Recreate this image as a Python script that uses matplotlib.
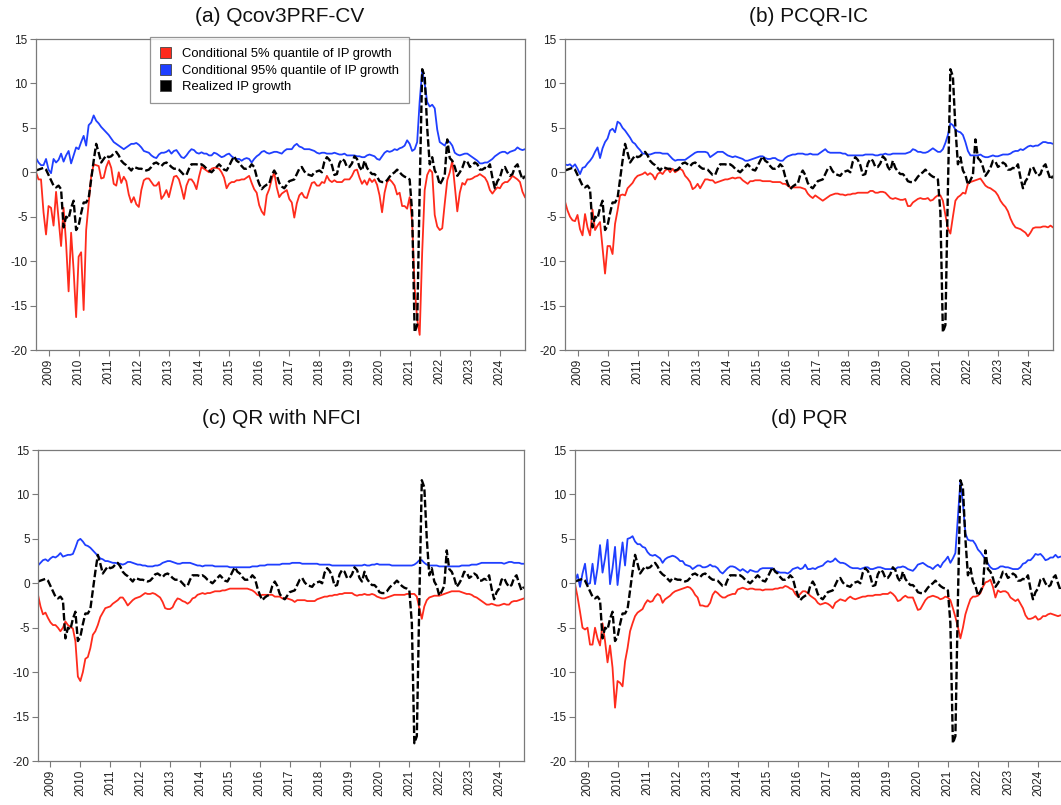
import numpy as np
import matplotlib.pyplot as plt
from matplotlib.patches import Patch

plt.rcParams['font.family'] = ['Liberation Sans', 'DejaVu Sans']
plt.rcParams['axes.unicode_minus'] = False

# ==========================================
# Data: monthly, Aug 2008 - Nov 2024
# ==========================================

start_year, start_month, n_months = 2008, 8, 196
dates = start_year + (start_month - 1 + np.arange(n_months)) / 12
year_ticks = list(range(2009, 2025))

realized = [
    0.2, 0.3, 0.4, 0.5, 0.3,
    -0.3, -0.9, -1.5, -1.7, -1.5, -1.9, -6.2, -5.0, -5.2, -4.0, -3.2, -6.5,
    -6.0, -4.6, -3.4, -3.4, -2.9, -0.8, 1.3, 3.2, 2.2, 1.1, 1.5, 1.9,
    1.7, 1.8, 2.1, 2.3, 1.9, 1.3, 1.0, 0.8, 0.5, 0.2, 0.6, 0.5,
    0.4, 0.4, 0.3, 0.2, 0.3, 0.6, 1.0, 1.1, 0.9, 0.7, 1.0, 1.1,
    0.9, 0.6, 0.4, 0.4, 0.3, 0.0, -0.3, -0.3, 0.4, 0.9, 0.9, 0.9,
    0.8, 0.9, 0.7, 0.4, 0.2, 0.0, 0.3, 0.6, 0.9, 0.6, 0.3, 0.2,
    0.7, 1.3, 1.8, 1.3, 1.1, 0.7, 0.4, 0.4, 0.5, 0.9, 0.6, -0.5,
    -1.3, -1.9, -1.6, -1.4, -1.3, -0.3, 0.2, -0.3, -1.2, -1.6, -1.8, -1.4,
    -1.0, -0.9, -0.8, -0.2, 0.4, 0.6, 0.1, -0.2, -0.3, -0.4, 0.0, 0.1,
    0.2, 0.0, 1.2, 1.7, 1.4, 0.8, -0.3, -0.2, 1.0, 1.5, 1.3, 0.6,
    0.6, 1.0, 1.8, 1.5, 0.6, 0.2, 1.3, 0.5, 0.1, -0.2, -0.2, -0.5,
    -1.0, -1.1, -1.1, -0.9, -0.5, -0.2, 0.0, 0.3, 0.0, -0.3, -0.5, -0.6,
    -0.8, -4.5, -18.0, -17.2, -2.0, 11.6, 10.8, 5.0, 0.9, 1.7, 0.2, -0.3,
    -1.4, -0.9, -0.3, 3.7, 1.6, 1.3, 0.6, -0.4, 0.0, 0.5, 1.3, 1.2,
    0.6, 0.8, 1.1, 0.9, 0.3, 0.3, 0.5, 0.4, 0.9, -0.6, -1.8, -1.0,
    -0.6, 0.4, 0.6, 0.0, -0.4, -0.2, 0.6, 0.9, 0.0, -0.8, -0.4,
]

# (a) Qcov3PRF-CV
a_q05 = [
    0.0, -0.8, -0.8, -4.5, -7.0,
    -3.8, -4.0, -6.0, -2.2, -5.2, -8.3, -4.0, -8.0, -13.4, -6.8, -11.0, -16.3,
    -9.5, -9.0, -15.5, -6.5, -3.5, -0.5, 0.9, 0.8, 0.7, -0.7, -0.6, 0.6,
    1.3, 0.5, -1.3, -1.5, 0.0, -1.2, -0.5, -1.0, -2.5, -3.4, -2.8, -3.6,
    -3.9, -2.0, -0.9, -0.7, -0.7, -1.1, -1.5, -1.5, -1.1, -3.0, -2.6, -2.0,
    -2.8, -1.6, -0.5, -0.4, -0.8, -1.8, -3.0, -1.5, -0.8, -0.8, -1.2, -1.9,
    -0.5, 0.6, 0.4, 0.2, 0.0, 0.4, 0.5, 0.5, 0.4, 0.0, -0.6, -1.8,
    -1.3, -1.1, -1.1, -0.9, -0.9, -0.8, -0.8, -0.6, -0.4, -1.2, -1.9, -2.3,
    -3.7, -4.4, -4.8, -2.6, -1.9, -0.8, 0.0, -1.7, -2.8, -2.4, -2.2, -2.0,
    -3.0, -3.4, -5.1, -3.5, -2.6, -2.3, -2.8, -2.9, -2.0, -1.2, -1.1, -1.5,
    -1.5, -1.1, -1.2, -0.4, -0.9, -1.1, -0.9, -1.1, -1.1, -1.1, -0.8, -0.8,
    -0.8, -0.4, 0.2, 0.3, -0.6, -1.3, -0.9, -1.4, -0.7, -1.1, -0.8, -1.4,
    -2.6, -4.5, -2.3, -1.1, -0.8, -1.1, -1.5, -2.5, -2.3, -3.8, -3.8, -4.1,
    -2.8, -5.6, -13.0, -16.5, -18.3, -9.0, -2.0, -0.3, 0.3, 0.0, -4.8, -6.1,
    -6.5, -6.3, -3.5, -0.9, 0.0, 1.3, -1.5, -4.4, -2.3, -1.2, -1.4, -0.8,
    -0.8, -0.7, -0.5, -0.4, -0.2, -0.4, -0.6, -1.1, -2.0, -2.4, -2.0, -1.7,
    -1.8, -1.3, -1.1, -1.1, -0.8, -0.4, -0.6, -0.8, -1.1, -2.2, -2.8,
]
a_q95 = [
    1.6, 1.1, 0.8, 0.8, 1.5,
    0.3, -0.1, 1.5, 1.1, 1.4, 2.1, 1.2, 1.9, 2.4, 1.0, 1.9, 2.8,
    2.6, 3.4, 4.1, 3.0, 5.3, 5.6, 6.4, 5.8, 5.5, 5.1, 4.8, 4.5,
    4.2, 3.8, 3.4, 3.2, 3.0, 2.8, 2.6, 2.8, 3.0, 3.2, 3.2, 3.3,
    3.1, 2.8, 2.4, 2.3, 2.2, 1.9, 1.7, 1.6, 2.0, 2.2, 2.2, 2.3,
    2.5, 2.1, 2.4, 2.5, 2.1, 1.7, 1.6, 1.9, 2.3, 2.6, 2.5, 2.2,
    2.1, 2.25, 2.1, 2.1, 1.9, 1.9, 2.2, 2.1, 1.9, 1.7, 1.8, 2.0,
    2.1, 1.8, 1.6, 1.5, 1.5, 1.3, 1.5, 1.6, 1.5, 1.1, 1.5, 1.8,
    2.0, 2.3, 2.4, 2.2, 2.1, 2.2, 2.3, 2.3, 2.2, 2.1, 2.4, 2.6,
    2.6, 2.6, 3.0, 3.2, 2.9, 2.8, 2.6, 2.6, 2.6, 2.5, 2.4, 2.2,
    2.1, 2.2, 2.2, 2.1, 2.1, 2.1, 2.2, 2.1, 2.0, 2.0, 2.1, 1.9,
    1.9, 1.9, 1.9, 1.8, 1.8, 1.7, 1.7, 1.9, 2.0, 1.9, 1.8, 1.5,
    1.4, 1.8, 2.2, 2.4, 2.3, 2.4, 2.6, 2.5, 2.7, 2.8, 3.0, 3.6,
    3.2, 2.4, 2.6, 3.4, 8.0, 11.4, 10.0, 7.9, 7.4, 7.6, 7.2, 4.8,
    3.4, 3.2, 3.0, 3.6, 3.4, 3.0, 2.2, 2.0, 1.9, 2.0, 2.1, 2.1,
    1.9, 1.7, 1.5, 1.3, 1.0, 1.0, 1.1, 1.1, 1.3, 1.5, 1.8, 2.0,
    2.2, 2.3, 2.3, 2.1, 2.3, 2.4, 2.5, 2.8, 2.6, 2.5, 2.6,
]

# (b) PCQR-IC
b_q05 = [
    -3.3, -4.3, -5.0, -5.4, -5.5,
    -4.8, -6.4, -7.1, -4.7, -6.2, -7.1, -4.2, -6.5, -6.0, -5.6, -8.5, -11.4,
    -8.3, -8.3, -9.2, -5.8, -4.3, -2.6, -2.5, -2.6, -1.8, -1.5, -1.2, -0.7,
    -0.4, -0.3, -0.2, 0.0, -0.3, -0.1, -0.3, -0.8, -0.2, 0.0, -0.2, 0.2,
    0.4, 0.0, 0.4, 0.0, 0.2, 0.4, 0.2, -0.4, -0.7, -1.1, -1.9, -1.7,
    -1.3, -1.8, -1.3, -0.8, -0.8, -0.9, -0.9, -1.2, -1.1, -1.0, -0.9, -0.8,
    -0.8, -0.7, -0.6, -0.7, -0.6, -0.6, -0.9, -1.1, -1.3, -1.0, -1.0, -0.9,
    -0.9, -0.9, -1.0, -1.0, -1.0, -1.0, -1.1, -1.1, -1.1, -1.1, -1.3, -1.3,
    -1.5, -1.7, -1.7, -1.7, -1.7, -1.7, -1.8, -1.9, -2.4, -2.7, -2.9, -2.6,
    -2.8, -3.0, -3.2, -3.0, -2.8, -2.6, -2.5, -2.4, -2.4, -2.5, -2.5, -2.6,
    -2.5, -2.5, -2.4, -2.4, -2.3, -2.3, -2.3, -2.3, -2.3, -2.1, -2.1, -2.3,
    -2.3, -2.2, -2.2, -2.3, -2.6, -2.9, -3.0, -2.9, -3.0, -3.1, -3.1, -3.0,
    -3.8, -3.8, -3.4, -3.2, -3.0, -2.9, -3.0, -3.0, -2.9, -3.2, -3.1, -2.8,
    -2.6, -2.6, -3.2, -4.8, -6.3, -6.9, -5.0, -3.2, -2.8, -2.6, -2.3, -2.4,
    -1.3, -1.1, -1.0, -0.9, -0.8, -0.7, -1.1, -1.5, -1.7, -1.8, -2.0, -2.2,
    -2.6, -3.2, -3.6, -3.9, -4.4, -5.2, -5.8, -6.2, -6.3, -6.4, -6.6, -6.8,
    -7.2, -6.8, -6.3, -6.2, -6.2, -6.2, -6.1, -6.1, -6.2, -6.0, -6.2,
]
b_q95 = [
    0.9, 0.8, 0.9, 0.6, 0.9,
    0.4, -0.2, 0.5, 0.6, 1.0, 1.3, 1.7, 2.3, 2.8, 1.6, 2.7, 3.4,
    3.8, 4.7, 4.9, 4.5, 5.7, 5.5, 5.0, 4.7, 4.3, 3.9, 3.4, 3.2,
    2.8, 2.5, 2.1, 2.1, 2.0, 2.0, 2.1, 2.2, 2.2, 2.2, 2.1, 2.1,
    2.1, 1.8, 1.5, 1.3, 1.4, 1.4, 1.4, 1.4, 1.6, 1.8, 2.0, 2.2,
    2.3, 2.3, 2.3, 2.3, 2.2, 1.7, 1.9, 2.1, 2.3, 2.3, 2.3, 2.1,
    1.9, 1.8, 1.7, 1.8, 1.7, 1.6, 1.5, 1.3, 1.3, 1.4, 1.5, 1.6,
    1.7, 1.8, 1.8, 1.6, 1.5, 1.5, 1.6, 1.6, 1.4, 1.3, 1.3, 1.6,
    1.8, 1.9, 2.0, 2.0, 2.1, 2.1, 2.1, 2.0, 2.0, 2.1, 2.0, 2.0,
    2.0, 2.2, 2.4, 2.6, 2.3, 2.2, 2.2, 2.2, 2.2, 2.2, 2.1, 2.1,
    1.9, 1.9, 1.9, 1.9, 1.9, 1.9, 1.9, 2.0, 2.0, 2.0, 2.0, 1.9,
    1.9, 2.0, 2.0, 2.1, 2.0, 2.0, 2.1, 2.1, 2.1, 2.1, 2.1, 2.1,
    2.2, 2.3, 2.6, 2.5, 2.3, 2.3, 2.2, 2.2, 2.3, 2.5, 2.7, 2.5,
    2.3, 2.3, 2.6, 3.3, 4.2, 5.5, 5.3, 4.8, 4.6, 4.5, 4.2, 3.4,
    2.4, 1.9, 1.9, 1.9, 1.9, 2.0, 1.8, 1.7, 1.7, 1.8, 1.9, 1.8,
    1.8, 1.9, 2.0, 2.0, 2.0, 2.1, 2.3, 2.4, 2.4, 2.6, 2.5, 2.7,
    2.9, 3.0, 2.9, 3.0, 3.0, 3.2, 3.4, 3.4, 3.3, 3.3, 3.2,
]

# (c) QR with NFCI
c_q05 = [
    -1.3, -2.6, -3.5, -3.3, -3.9,
    -4.4, -4.7, -4.7, -5.0, -5.4, -5.0, -4.3, -4.7, -4.9, -5.1, -6.5, -10.5,
    -11.0, -10.0, -8.5, -8.3, -7.3, -5.8, -5.4, -4.7, -3.8, -3.3, -2.8, -2.7,
    -2.6, -2.3, -2.1, -1.9, -1.6, -1.6, -2.0, -2.5, -2.2, -1.9, -1.7, -1.6,
    -1.5, -1.3, -1.1, -1.2, -1.2, -1.1, -1.2, -1.4, -1.6, -2.1, -2.8, -2.9,
    -2.9, -2.7, -2.1, -1.7, -1.8, -2.0, -2.1, -2.3, -2.1, -1.7, -1.6, -1.3,
    -1.2, -1.1, -1.2, -1.1, -1.1, -1.0, -0.9, -0.9, -0.9, -0.8, -0.8, -0.7,
    -0.6, -0.6, -0.6, -0.6, -0.6, -0.6, -0.6, -0.6, -0.7, -0.8, -1.0, -1.3,
    -1.4, -1.3, -1.3, -1.3, -1.3, -1.3, -1.5, -1.5, -1.5, -1.7, -1.7, -1.7,
    -1.8, -1.9, -2.1, -1.9, -1.9, -1.9, -1.9, -2.0, -2.0, -2.0, -2.0, -1.8,
    -1.7, -1.6, -1.5, -1.5, -1.4, -1.4, -1.3, -1.3, -1.2, -1.2, -1.1, -1.1,
    -1.1, -1.1, -1.3, -1.4, -1.3, -1.3, -1.2, -1.3, -1.3, -1.2, -1.3, -1.5,
    -1.6, -1.7, -1.7, -1.6, -1.5, -1.4, -1.3, -1.3, -1.3, -1.3, -1.3, -1.2,
    -1.2, -1.2, -1.2, -1.5, -2.8, -4.0, -2.6, -1.9, -1.6, -1.5, -1.4, -1.4,
    -1.4, -1.3, -1.2, -1.1, -1.0, -0.9, -0.9, -0.9, -0.9, -1.0, -1.1, -1.2,
    -1.2, -1.3, -1.5, -1.6, -1.8, -2.0, -2.2, -2.4, -2.4, -2.3, -2.4, -2.5,
    -2.5, -2.4, -2.3, -2.4, -2.4, -2.1, -2.0, -2.0, -1.9, -1.8, -1.7,
]
c_q95 = [
    2.0, 2.3, 2.6, 2.7, 2.5,
    2.8, 3.0, 2.9, 3.1, 3.4, 3.0, 3.1, 3.2, 3.2, 3.3, 4.0, 4.8,
    5.0, 4.7, 4.3, 4.2, 4.0, 3.7, 3.4, 3.1, 2.8, 2.7, 2.5, 2.5,
    2.4, 2.3, 2.3, 2.2, 2.2, 2.1, 2.2, 2.4, 2.4, 2.3, 2.2, 2.1,
    2.1, 2.0, 2.0, 1.9, 1.9, 1.9, 2.0, 2.0, 2.1, 2.3, 2.4, 2.5,
    2.5, 2.4, 2.3, 2.2, 2.2, 2.3, 2.3, 2.3, 2.3, 2.2, 2.1, 2.0,
    2.0, 1.9, 2.0, 2.0, 2.0, 2.0, 1.9, 1.9, 1.9, 1.9, 1.9, 1.9,
    1.8, 1.8, 1.8, 1.8, 1.8, 1.8, 1.8, 1.8, 1.8, 1.9, 1.9, 1.9,
    2.0, 2.0, 2.0, 2.1, 2.1, 2.1, 2.1, 2.1, 2.1, 2.2, 2.2, 2.2,
    2.2, 2.3, 2.3, 2.3, 2.3, 2.2, 2.2, 2.2, 2.2, 2.2, 2.2, 2.2,
    2.1, 2.1, 2.1, 2.1, 2.1, 2.0, 2.0, 2.0, 2.0, 2.0, 2.0, 2.0,
    2.0, 2.0, 2.0, 2.0, 2.0, 2.0, 2.1, 2.0, 2.0, 2.1, 2.1, 2.2,
    2.1, 2.1, 2.1, 2.1, 2.1, 2.0, 2.0, 2.0, 2.0, 2.0, 2.0, 2.0,
    2.0, 2.0, 2.1, 2.3, 2.6, 2.6, 2.3, 2.1, 2.0, 2.0, 2.0, 2.0,
    1.9, 1.9, 1.9, 1.9, 1.9, 1.9, 1.9, 1.9, 1.9, 2.0, 2.0, 2.0,
    2.0, 2.1, 2.1, 2.1, 2.2, 2.3, 2.3, 2.3, 2.3, 2.3, 2.3, 2.3,
    2.3, 2.3, 2.2, 2.3, 2.4, 2.4, 2.3, 2.3, 2.3, 2.2, 2.2,
]

# (d) PQR
d_q05 = [
    -0.1, -1.5, -3.2, -5.0, -5.2,
    -5.0, -6.9, -6.9, -5.0, -6.2, -7.0, -4.5, -6.5, -8.9, -7.0, -9.5, -14.0,
    -11.0, -11.2, -11.6, -8.8, -7.3, -5.4, -4.5, -3.7, -3.3, -3.1, -2.9, -2.3,
    -1.9, -2.1, -2.0, -1.5, -1.2, -1.4, -2.2, -1.8, -1.6, -1.4, -1.1, -0.9,
    -0.8, -0.7, -0.6, -0.5, -0.4, -0.5, -0.8, -1.3, -1.6, -2.5, -2.5, -2.6,
    -2.6, -2.2, -1.3, -0.9, -1.1, -1.4, -1.6, -1.6, -1.4, -1.3, -1.2, -1.2,
    -0.7, -0.6, -0.5, -0.6, -0.7, -0.6, -0.6, -0.7, -0.7, -0.7, -0.8, -0.7,
    -0.7, -0.7, -0.7, -0.6, -0.6, -0.5, -0.5, -0.3, -0.4, -0.6, -0.7, -1.2,
    -1.5, -1.2, -0.9, -0.9, -1.1, -1.4, -1.6, -1.8, -2.2, -2.4, -2.3, -2.2,
    -2.3, -2.5, -2.8, -2.2, -2.0, -1.8, -1.9, -2.0, -1.7, -1.5, -1.7, -1.8,
    -1.7, -1.6, -1.5, -1.5, -1.4, -1.4, -1.4, -1.3, -1.3, -1.3, -1.2, -1.2,
    -1.2, -1.0, -1.2, -1.5, -2.0, -1.9, -1.6, -1.4, -1.6, -1.6, -1.6, -2.3,
    -3.0, -2.9, -2.4, -1.9, -1.6, -1.5, -1.4, -1.5, -1.6, -1.8, -1.7, -1.5,
    -1.6, -1.9, -2.8, -3.8, -4.9, -6.2, -5.0, -3.5, -2.6, -1.8, -1.5, -1.5,
    -1.4, -1.1, -0.4, 0.1, 0.2, 0.4, -0.4, -1.6, -0.8, -1.0, -0.9, -0.9,
    -1.1, -1.6, -1.8, -2.0, -1.8, -2.3, -2.8, -3.6, -4.0, -4.0, -3.9, -3.7,
    -4.1, -4.0, -3.7, -3.7, -3.5, -3.4, -3.5, -3.6, -3.7, -3.6, -3.6,
]
d_q95 = [
    0.3, 1.0, -0.4, 1.1, 2.2,
    -0.1, 0.0, 2.2, -0.1, 1.7, 4.3, 1.2, 2.8, 4.9, -0.1, 1.7, 4.1,
    -0.2, 2.3, 4.6, 2.0, 5.0, 5.1, 5.3, 4.7, 4.4, 4.4, 4.1, 4.0,
    3.5, 3.2, 3.1, 3.2, 3.0, 2.8, 2.3, 2.7, 2.9, 3.0, 3.1, 3.0,
    2.8, 2.5, 2.5, 2.1, 2.0, 1.9, 1.6, 1.8, 2.0, 2.0, 1.8, 1.8,
    1.9, 2.1, 1.9, 1.9, 1.7, 1.3, 1.1, 1.4, 1.7, 1.9, 1.9, 1.8,
    1.6, 1.4, 1.6, 1.4, 1.2, 1.5, 1.4, 1.3, 1.3, 1.6, 1.7, 1.7,
    1.7, 1.7, 1.7, 1.4, 1.3, 1.2, 1.2, 1.2, 1.1, 1.3, 1.6, 1.7,
    1.8, 1.6, 1.7, 2.1, 1.6, 1.6, 1.7, 1.6, 1.8, 1.9, 2.0, 2.3,
    2.5, 2.4, 2.5, 2.8, 2.5, 2.3, 2.3, 2.2, 2.0, 1.8, 1.7, 1.7,
    1.7, 1.6, 1.7, 1.8, 1.8, 1.6, 1.6, 1.7, 1.8, 1.8, 1.7, 1.6,
    1.6, 1.6, 1.6, 1.6, 1.8, 1.8, 1.9, 1.8, 1.6, 1.5, 1.4, 1.7,
    2.1, 2.2, 2.3, 2.1, 1.9, 1.8, 1.6, 1.9, 2.1, 1.8, 2.3, 2.6,
    3.0, 2.3, 2.8, 3.4, 7.4, 11.5, 9.0, 5.6, 4.9, 4.8, 4.8, 4.4,
    3.8, 3.5, 3.1, 2.7, 2.2, 1.8, 1.6, 1.6, 1.7, 1.9, 1.9, 1.8,
    1.8, 1.7, 1.6, 1.6, 1.6, 1.8, 2.2, 2.3, 2.6, 2.6, 2.9, 3.3,
    3.2, 3.3, 3.0, 2.6, 2.7, 2.9, 2.9, 3.2, 2.9, 3.0, 3.0,
]

panels = [
    ("(a) Qcov3PRF-CV", a_q05, a_q95),
    ("(b) PCQR-IC", b_q05, b_q95),
    ("(c) QR with NFCI", c_q05, c_q95),
    ("(d) PQR", d_q05, d_q95),
]

# ==========================================
# Layout (pixel boxes: left, top, right, bottom)
# ==========================================

W, H = 1061, 805
boxes = [
    (36, 39, 525, 350),
    (565, 39, 1053, 350),
    (38, 450, 524, 761),
    (575, 450, 1063, 761),
]
title_pos = [(280, 17), (809, 17), (281, 418), (809, 418)]

RED = "#ff2b1c"
BLUE = "#1f3fff"
GRAY = "#7a7a7a"

fig = plt.figure(figsize=(W / 100, H / 100), dpi=100)

for (title, q05, q95), (l, t, r, b), (tx, ty) in zip(panels, boxes, title_pos):
    ax = fig.add_axes([l / W, 1 - b / H, (r - l) / W, (b - t) / H])

    ax.plot(dates, q05, color=RED, lw=1.3)
    ax.plot(dates, q95, color=BLUE, lw=1.3)
    ax.plot(dates, realized, color="black", lw=1.7, dashes=(3.2, 1.2))

    ax.set_xlim(dates[0], dates[-1])
    ax.set_ylim(-20, 15)
    ax.set_yticks(range(-20, 16, 5))
    ax.set_xticks(year_ticks)
    ax.set_xticklabels([str(y) for y in year_ticks], rotation=90)

    ax.tick_params(direction="out", length=4, width=0.8, color=GRAY,
                   labelsize=8.5, labelcolor="#222222", pad=2)
    for s in ax.spines.values():
        s.set_color(GRAY)
        s.set_linewidth(0.9)

    fig.text(tx / W, 1 - ty / H, title, ha="center", va="center",
             fontsize=15, color="#111111")

    if title.startswith("(a)"):
        handles = [
            Patch(facecolor=RED, edgecolor="#444444", lw=0.6),
            Patch(facecolor=BLUE, edgecolor="#444444", lw=0.6),
            Patch(facecolor="black", edgecolor="#444444", lw=0.6),
        ]
        labels = [
            "Conditional 5% quantile of IP growth",
            "Conditional 95% quantile of IP growth",
            "Realized IP growth",
        ]
        leg = ax.legend(handles, labels, loc="upper left",
                        bbox_to_anchor=(0.233, 1.005), fontsize=9.4,
                        frameon=True, fancybox=False, edgecolor=GRAY,
                        handlelength=0.9, handleheight=0.9,
                        handletextpad=0.8, labelspacing=0.28,
                        borderpad=0.75, borderaxespad=0)
        leg.get_frame().set_linewidth(0.9)

fig.savefig("out.png", dpi=100)
